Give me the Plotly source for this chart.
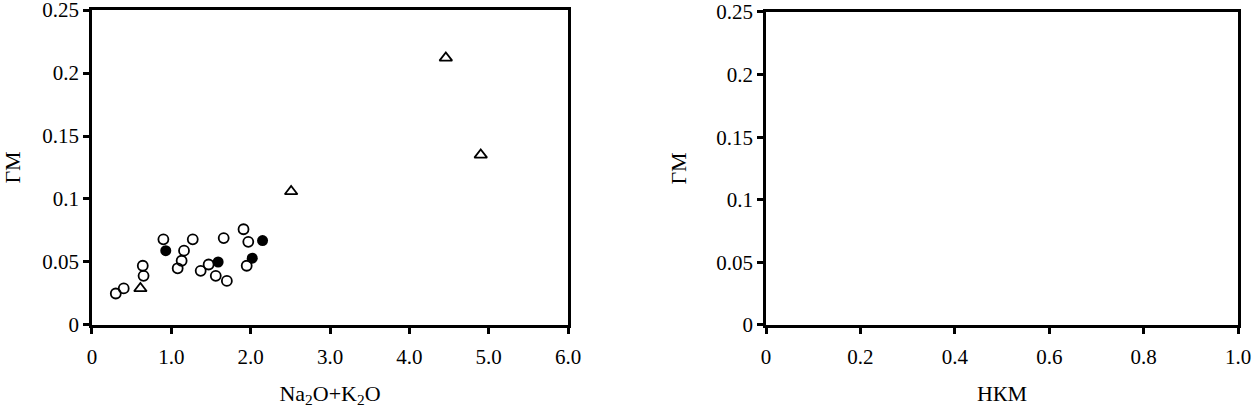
import plotly.graph_objects as go

# open circles
open_x = [0.30, 0.40, 0.64, 0.65, 0.90, 1.08, 1.13, 1.16, 1.27, 1.37, 1.47, 1.56, 1.66, 1.70, 1.91, 1.95, 1.97]
open_y = [0.025, 0.029, 0.047, 0.039, 0.068, 0.045, 0.051, 0.059, 0.068, 0.043, 0.048, 0.039, 0.069, 0.035, 0.076, 0.047, 0.066]

# filled circles
fill_x = [0.93, 1.59, 2.02, 2.15]
fill_y = [0.059, 0.050, 0.053, 0.067]

# triangles
tri_x = [0.61, 2.51, 4.46, 4.90]
tri_y = [0.029, 0.106, 0.212, 0.135]

x1_ticks = [0, 1, 2, 3, 4, 5, 6]
x1_labels = ["0", "1.0", "2.0", "3.0", "4.0", "5.0", "6.0"]
x2_ticks = [0, 0.2, 0.4, 0.6, 0.8, 1.0]
x2_labels = ["0", "0.2", "0.4", "0.6", "0.8", "1.0"]
y_ticks = [0, 0.05, 0.1, 0.15, 0.2, 0.25]
y_labels = ["0", "0.05", "0.1", "0.15", "0.2", "0.25"]

fig = go.Figure()
fig.add_trace(go.Scatter(x=open_x, y=open_y, mode="markers",
                         marker=dict(symbol="circle-open", size=10, color="black", line=dict(width=1.8))))
fig.add_trace(go.Scatter(x=fill_x, y=fill_y, mode="markers",
                         marker=dict(symbol="circle", size=11, color="black")))
fig.add_trace(go.Scatter(x=tri_x, y=tri_y, mode="markers",
                         marker=dict(symbol="triangle-up-open", size=11, color="black", line=dict(width=1.8))))
# empty right panel
fig.add_trace(go.Scatter(x=[None], y=[None], xaxis="x2", yaxis="y2", mode="markers"))

font = dict(family="Liberation Serif", size=21, color="black")
tfont = dict(family="Liberation Serif", size=22, color="black")
ax = dict(showline=True, linecolor="black", linewidth=2.5, mirror=True, ticks="outside",
          ticklen=6, tickwidth=2.5, tickcolor="black", showgrid=False, zeroline=False,
          tickfont=font, automargin=False, ticklabeloverflow="allow")

fig.update_layout(
    width=1255, height=412,
    margin=dict(l=0, r=0, t=0, b=0),
    paper_bgcolor="white", plot_bgcolor="white",
    showlegend=False,
    font=font,
    xaxis=dict(ax, domain=[0.0733, 0.4526], range=[0, 6], tickvals=x1_ticks, ticktext=x1_labels,
               ticklabelstandoff=5,
               title=dict(text="Na<sub>2</sub>O+K<sub>2</sub>O", font=tfont, standoff=18), anchor="y"),
    yaxis=dict(ax, domain=[0.2112, 0.9757], range=[0, 0.25], tickvals=y_ticks, ticktext=y_labels,
               title=dict(text="ГМ", font=tfont, standoff=24), anchor="x"),
    xaxis2=dict(ax, domain=[0.6104, 0.9865], range=[0, 1], tickvals=x2_ticks, ticktext=x2_labels,
                ticklabelstandoff=5,
                title=dict(text="НКМ", font=tfont, standoff=18), anchor="y2"),
    yaxis2=dict(ax, domain=[0.2112, 0.9709], range=[0, 0.25], tickvals=y_ticks, ticktext=y_labels,
                title=dict(text="ГМ", font=tfont, standoff=24), anchor="x2"),
)

fig.write_html("out.html", config={"displayModeBar": False},
               post_script="document.body.style.margin='0px';")
